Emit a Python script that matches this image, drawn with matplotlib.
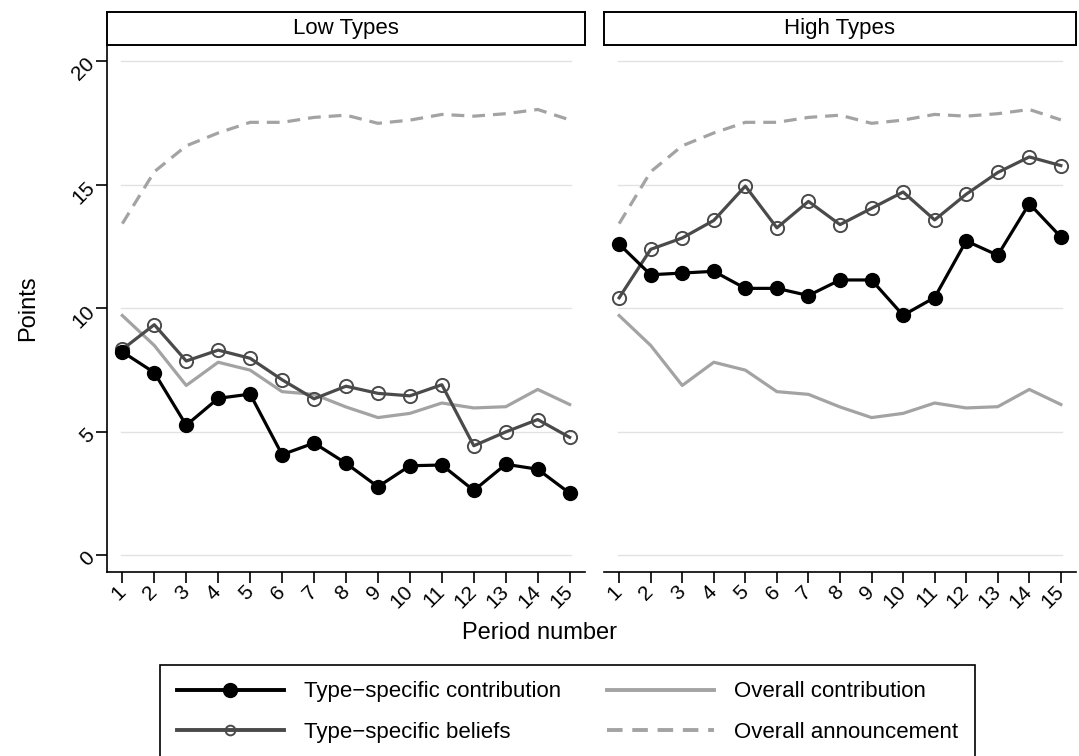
import numpy as np
import matplotlib
matplotlib.use("Agg")
import matplotlib.pyplot as plt

plt.rcParams['font.family'] = ['Liberation Sans', 'DejaVu Sans']

periods = np.arange(1, 16)

# Low types
low_contrib = [8.23, 7.39, 5.26, 6.35, 6.52, 4.07, 4.54, 3.72, 2.77, 3.62, 3.65, 2.62, 3.68, 3.48, 2.51]
low_beliefs = [8.33, 9.33, 7.86, 8.30, 7.97, 7.10, 6.33, 6.84, 6.55, 6.45, 6.90, 4.43, 4.99, 5.49, 4.77]

# High types
high_contrib = [12.59, 11.35, 11.42, 11.49, 10.80, 10.80, 10.51, 11.14, 11.14, 9.71, 10.43, 12.72, 12.14, 14.23, 12.88]
high_beliefs = [10.42, 12.38, 12.84, 13.55, 14.94, 13.25, 14.32, 13.38, 14.04, 14.70, 13.57, 14.61, 15.49, 16.12, 15.77]

# Overall series (same in both panels)
overall_contrib = [9.70, 8.49, 6.87, 7.81, 7.49, 6.62, 6.51, 6.00, 5.57, 5.74, 6.16, 5.96, 6.01, 6.71, 6.10]
overall_announce = [13.42, 15.52, 16.57, 17.09, 17.52, 17.52, 17.72, 17.81, 17.48, 17.61, 17.84, 17.77, 17.87, 18.04, 17.62]

panel_titles = ['Low Types', 'High Types']
yticks = [0, 5, 10, 15, 20]

W, H = 1079, 756
fig = plt.figure(figsize=(W / 100, H / 100), dpi=100)

def fx(px):
    return px / W

def fy(py):
    return 1 - py / H

ax_box = [(107, 585), (604, 1076)]
top, bottom, head_top = 45, 572, 12

axes = []
for i, (x0, x1) in enumerate(ax_box):
    ax = fig.add_axes([fx(x0), fy(bottom), fx(x1 - x0), fy(top) - fy(bottom)])
    axes.append(ax)
    hd = fig.add_axes([fx(x0), fy(top), fx(x1 - x0), fy(head_top) - fy(top)])
    hd.set_xticks([])
    hd.set_yticks([])
    for s in hd.spines.values():
        s.set_linewidth(1.4)
        s.set_color('black')
    hd.text(0.5, 0.5, panel_titles[i], ha='center', va='center', fontsize=16, transform=hd.transAxes)

data = [(low_contrib, low_beliefs), (high_contrib, high_beliefs)]

for i, ax in enumerate(axes):
    contrib, beliefs = data[i]
    for y in yticks:
        ax.axhline(y, xmin=0.03, xmax=0.97, color='#e2e2e2', lw=1.0, zorder=0)
    ax.plot(periods, overall_announce, color='#a3a3a3', lw=2.3, ls=(0, (4, 2.5)), zorder=2)
    ax.plot(periods, overall_contrib, color='#a3a3a3', lw=2.3, zorder=2)
    ax.plot(periods, beliefs, color='#4a4a4a', lw=2.3, marker='o', ms=9.5,
            mfc='none', mec='#4a4a4a', mew=1.4, zorder=3)
    ax.plot(periods, contrib, color='black', lw=2.3, marker='o', ms=10, zorder=4)

    ax.set_xlim(0.52, 15.48)
    ax.set_ylim(-0.68, 20.65)
    ax.set_xticks(periods)
    ax.set_xticklabels([str(p) for p in periods], rotation=45, fontsize=15,
                       ha='right', va='center', rotation_mode='anchor')
    ax.tick_params(axis='x', length=8, width=1.2, direction='out', pad=4)
    for s in ['top', 'right']:
        ax.spines[s].set_visible(False)
    ax.spines['bottom'].set_linewidth(1.2)
    if i == 0:
        ax.set_yticks(yticks)
        ax.set_yticklabels([str(y) for y in yticks], rotation=45, fontsize=15,
                           ha='right', va='center', rotation_mode='anchor')
        ax.tick_params(axis='y', length=8, width=1.2, direction='out', pad=3)
        ax.spines['left'].set_linewidth(1.2)
    else:
        ax.set_yticks([])
        ax.spines['left'].set_visible(False)

fig.text(fx(28), fy(308), 'Points', rotation=90, ha='center', va='center', fontsize=17)
fig.text(fx(540), fy(633), 'Period number', ha='center', va='center', fontsize=17)

h1, = axes[0].plot([], [], color='black', lw=2.8, marker='o', ms=10)
h2, = axes[0].plot([], [], color='#4a4a4a', lw=2.8, marker='o', ms=7, mfc='none', mec='#4a4a4a', mew=1.4)
h3, = axes[0].plot([], [], color='#a3a3a3', lw=2.8)
h4, = axes[0].plot([], [], color='#a3a3a3', lw=2.8, ls=(0, (4, 2.5)))
leg = fig.legend([h1, h2, h3, h4],
                 ['Type\u2212specific contribution', 'Type\u2212specific beliefs',
                  'Overall contribution', 'Overall announcement'],
                 ncol=2, loc='center', bbox_to_anchor=(fx(567.5), fy(712)),
                 fontsize=16, handlelength=4.8, columnspacing=2.1, handletextpad=0.9,
                 labelspacing=0.87, borderpad=0.75, fancybox=False, edgecolor='black',
                 framealpha=1)
leg.get_frame().set_linewidth(1.2)

fig.savefig('out.png', dpi=100)
